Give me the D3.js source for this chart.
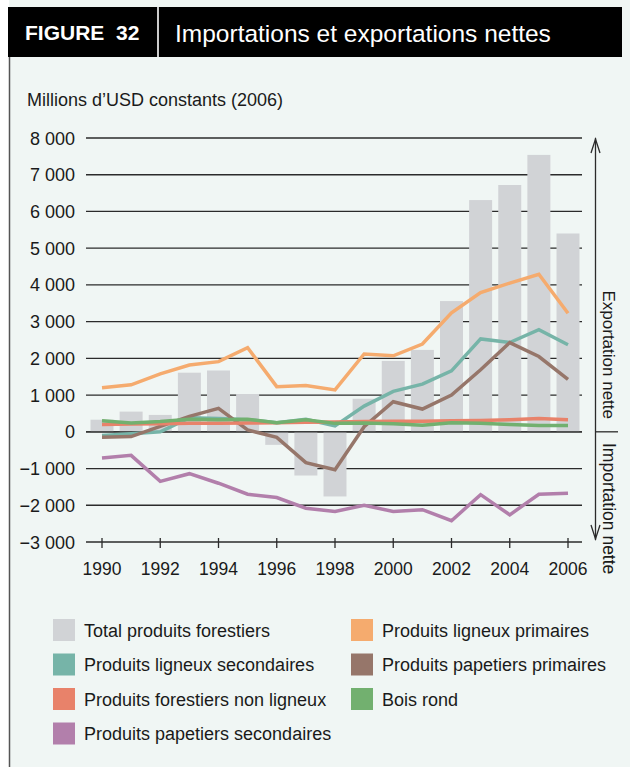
<!DOCTYPE html>
<html>
<head>
<meta charset="utf-8">
<script src="https://cdn.jsdelivr.net/npm/d3@7"></script>
<style>
  body { margin: 0; background: #fff; }
  svg text { font-family: "Liberation Sans", Arial, sans-serif; fill: #1a1a1a; }
</style>
</head>
<body>
<svg id="chart" width="630" height="767"></svg>
<script>
// data (millions USD constants 2006)
var years = d3.range(1990, 2007);
var total = [330, 550, 460, 1610, 1670, 1030, -355, -1190, -1760, 900, 1930, 2230, 3560, 6310, 6720, 7540, 5400];
var ligneuxPrimaires = [1200, 1280, 1580, 1820, 1910, 2290, 1230, 1260, 1140, 2120, 2070, 2390, 3240, 3790, 4050, 4290, 3230];
var ligneuxSecondaires = [-100, -50, 0, 380, 360, 330, 250, 340, 160, 700, 1100, 1300, 1660, 2530, 2430, 2780, 2370];
var papetiersPrimaires = [-150, -130, 150, 420, 640, 50, -150, -840, -1030, 140, 820, 620, 1000, 1690, 2430, 2050, 1430];
var nonLigneux = [200, 210, 220, 230, 230, 240, 250, 260, 270, 280, 290, 290, 300, 310, 330, 360, 330];
var boisRond = [300, 240, 280, 340, 330, 340, 250, 330, 230, 240, 220, 180, 250, 230, 200, 170, 170];
var papetiersSecondaires = [-710, -640, -1350, -1140, -1400, -1700, -1790, -2080, -2170, -2000, -2170, -2120, -2420, -1710, -2260, -1700, -1670];
var yTicks = d3.range(-3000, 8001, 1000);
var xTicks = d3.range(1990, 2007, 2);

var lines = [
	{ name: "Produits ligneux secondaires", values: ligneuxSecondaires, color: "#76b4a8" },
	{ name: "Produits papetiers primaires", values: papetiersPrimaires, color: "#96766a" },
	{ name: "Produits papetiers secondaires", values: papetiersSecondaires, color: "#b27fab" },
	{ name: "Produits ligneux primaires", values: ligneuxPrimaires, color: "#f5ab6e" },
	{ name: "Produits forestiers non ligneux", values: nonLigneux, color: "#e8826a" },
	{ name: "Bois rond", values: boisRond, color: "#72b06f" }
];

var legendItems = [
	{ name: "Total produits forestiers", color: "#d1d3d6" },
	{ name: "Produits ligneux primaires", color: "#f5ab6e" },
	{ name: "Produits ligneux secondaires", color: "#76b4a8" },
	{ name: "Produits papetiers primaires", color: "#96766a" },
	{ name: "Produits forestiers non ligneux", color: "#e8826a" },
	{ name: "Bois rond", color: "#72b06f" },
	{ name: "Produits papetiers secondaires", color: "#b27fab" }
];

var svg = d3.select("#chart");

// panel background + left border
svg.append("rect").attr("x", 9).attr("y", 0).attr("width", 621).attr("height", 767).attr("fill", "#f0f6f4");
svg.append("line").attr("x1", 9.5).attr("x2", 9.5).attr("y1", 57).attr("y2", 767)
	.attr("stroke", "#555").attr("stroke-width", 1.5);

// header band
svg.append("rect").attr("x", 8).attr("y", 7).attr("width", 614).attr("height", 50).attr("fill", "#000");
svg.append("line").attr("x1", 158).attr("x2", 158).attr("y1", 7).attr("y2", 57)
	.attr("stroke", "#fff").attr("stroke-width", 1.6);
svg.append("text").attr("x", 25).attr("y", 40)
	.style("font-weight", "bold").style("font-size", "21px").style("fill", "#fff")
	.attr("xml:space", "preserve")
	.text("FIGURE  32");
svg.append("text").attr("x", 175).attr("y", 42)
	.style("font-size", "24.5px").style("fill", "#fff")
	.text("Importations et exportations nettes");

svg.append("text").attr("x", 27).attr("y", 106)
	.style("font-size", "18px")
	.text("Millions d\u2019USD constants (2006)");

var x0 = 86, x1 = 582;
var x = d3.scaleLinear().domain([1990, 2006]).range([102, 568]);
var y = d3.scaleLinear().domain([-3000, 8000]).range([542, 138]);

// grid lines
svg.append("g").selectAll("line").data(yTicks.filter(function(d) { return d > -3000; }))
	.enter().append("line")
	.attr("x1", x0).attr("x2", x1)
	.attr("y1", function(d) { return y(d); }).attr("y2", function(d) { return y(d); })
	.attr("stroke", "#2b2b2b").attr("stroke-width", 1.3);

// y tick labels
svg.append("g").selectAll("text").data(yTicks)
	.enter().append("text")
	.attr("x", 75).attr("y", function(d) { return y(d) + 6.5; })
	.attr("text-anchor", "end")
	.style("font-size", "18px")
	.text(function(d) { return d3.format(",")(d).replace(",", " ").replace("-", "\u2212"); });

// bars
var bw = 23;
svg.append("g").selectAll("rect").data(total)
	.enter().append("rect")
	.attr("x", function(d, i) { return x(years[i]) - bw / 2; })
	.attr("width", bw)
	.attr("y", function(d) { return y(Math.max(0, d)); })
	.attr("height", function(d) { return Math.abs(y(d) - y(0)); })
	.attr("fill", "#d1d3d6");

// zero line on top of bars
svg.append("line").attr("x1", x0).attr("x2", x1).attr("y1", y(0)).attr("y2", y(0))
	.attr("stroke", "#2b2b2b").attr("stroke-width", 1.3);

// series lines
var lineGen = d3.line()
	.x(function(d, i) { return x(years[i]); })
	.y(function(d) { return y(d); });
svg.append("g").selectAll("path").data(lines)
	.enter().append("path")
	.attr("d", function(d) { return lineGen(d.values); })
	.attr("fill", "none")
	.attr("stroke", function(d) { return d.color; })
	.attr("stroke-width", 3.5)
	.attr("stroke-linejoin", "miter");

// x axis
var xAxis = svg.append("g").attr("transform", "translate(0," + y(-3000) + ")");
xAxis.append("line").attr("x1", x0).attr("x2", x1).attr("stroke", "#2b2b2b").attr("stroke-width", 1.3);
xAxis.selectAll(".tick").data(xTicks).enter().append("line")
	.attr("x1", function(d) { return x(d); }).attr("x2", function(d) { return x(d); })
	.attr("y1", -4).attr("y2", 6)
	.attr("stroke", "#2b2b2b").attr("stroke-width", 1.3);
xAxis.selectAll("text").data(xTicks).enter().append("text")
	.attr("x", function(d) { return x(d); }).attr("y", 33)
	.attr("text-anchor", "middle")
	.style("font-size", "17.5px")
	.text(function(d) { return d; });

// export / import arrow
var ax = 595.5;
var arrow = svg.append("g").attr("stroke", "#2b2b2b").attr("fill", "none").attr("stroke-width", 1.3);
arrow.append("line").attr("x1", ax).attr("x2", ax).attr("y1", 138).attr("y2", 540);
arrow.append("path").attr("d", "M" + (ax - 4.5) + ",153L" + ax + ",139L" + (ax + 4.5) + ",153");
arrow.append("path").attr("d", "M" + (ax - 4.5) + ",525L" + ax + ",539L" + (ax + 4.5) + ",525");
arrow.append("line").attr("x1", ax).attr("x2", 618).attr("y1", y(0)).attr("y2", y(0));
svg.append("text").attr("transform", "translate(603,419) rotate(90)")
	.attr("text-anchor", "end").style("font-size", "17px").text("Exportation nette");
svg.append("text").attr("transform", "translate(603,443) rotate(90)")
	.attr("text-anchor", "start").style("font-size", "17.5px").text("Importation nette");

// legend
var leg = svg.append("g").selectAll("g").data(legendItems).enter().append("g")
	.attr("transform", function(d, i) {
		return "translate(" + (i % 2 === 0 ? 53 : 351) + "," + (619 + Math.floor(i / 2) * 34.5) + ")";
	});
leg.append("rect").attr("width", 22).attr("height", 22).attr("fill", function(d) { return d.color; });
leg.append("text").attr("x", 31).attr("y", 17.5).style("font-size", "18px").text(function(d) { return d.name; });
</script>
</body>
</html>
